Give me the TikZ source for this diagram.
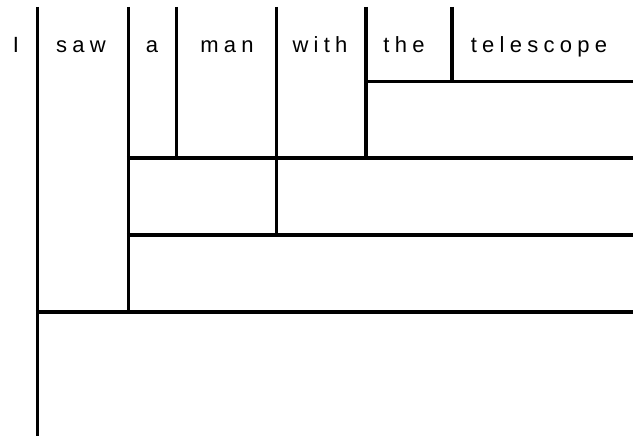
\documentclass[tikz,border=0pt]{standalone}
\usepackage{fontspec}
\setmainfont{Liberation Sans}[LetterSpace=24]
\begin{document}
\begin{tikzpicture}[x=1pt,y=-1pt,
  rule/.style={line width=3.4pt,black},
  word/.style={anchor=base,inner sep=0pt,font=\fontsize{22}{26}\selectfont}]
\useasboundingbox (0,0) rectangle (633,436);
% words
\node[word] (w1) at (16,53) {I};
\node[word] (w2) at (81,53) {saw};
\node[word] (w3) at (152,53) {a};
\node[word] (w4) at (227,53) {man};
\node[word] (w5) at (320,53) {with};
\node[word] (w6) at (404,53) {the};
\node[word] (w7) at (539,53) {telescope};
% vertical rules
\draw[rule] (37.5,7) -- (37.5,436);
\draw[rule] (128.5,7) -- (128.5,313.7);
\draw[rule] (176.5,7) -- (176.5,158);
\draw[rule] (276.5,7) -- (276.5,235);
\draw[rule] (366,7) -- (366,158);
\draw[rule] (452,7) -- (452,81.5);
% horizontal rules
\draw[rule] (364.3,81.5) -- (633,81.5);
\draw[rule] (126.8,158) -- (633,158);
\draw[rule] (126.8,235) -- (633,235);
\draw[rule] (35.8,312) -- (633,312);
\end{tikzpicture}
\end{document}
